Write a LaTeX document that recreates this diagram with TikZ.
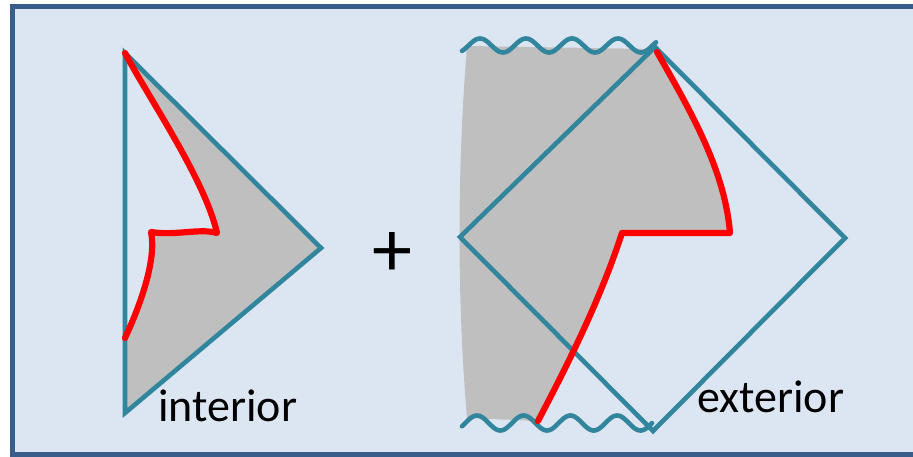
\documentclass[tikz,border=0pt]{standalone}
\usepackage{fontspec}
\setmainfont{Carlito}
\definecolor{bgfill}{HTML}{DCE6F2}
\definecolor{frame}{HTML}{385D8A}
\definecolor{teal}{HTML}{31859C}
\definecolor{shade}{HTML}{BFBFBF}
\definecolor{redline}{HTML}{FF0000}
\begin{document}
\begin{tikzpicture}[x=1pt,y=-1pt,
  edge/.style={draw=teal,line width=4.6pt,line join=miter},
  wave/.style={draw=teal,line width=4.6pt,line cap=round},
  surface/.style={draw=redline,line width=6.2pt,line cap=round,line join=round},
  region/.style={fill=shade,draw=none},
  label/.style={font=\fontsize{46}{46}\selectfont,text=black,inner sep=0pt,anchor=base west}]
\useasboundingbox (0,0) rectangle (913,457);
\clip (0,0) rectangle (913,457);
\fill[white] (0,0) rectangle (913,457);
\draw[fill=bgfill,draw=frame,line width=5pt] (12,7) rectangle (940,454);
% ---------- interior ----------
\coordinate (it) at (125,53);
\coordinate (ir) at (321,248);
\coordinate (ib) at (125,413);
\coordinate (ik) at (217,233);
\coordinate (ic) at (151,232);
\coordinate (ie) at (125,338);
\path[region] (it) -- (ir) -- (ib) -- (ie)
  .. controls (145,295) and (156,255) .. (ic)
  .. controls (175,236) and (200,228) .. (ik)
  .. controls (205,180) and (150,100) .. (it) -- cycle;
\draw[edge] (it) -- (ir) -- (ib) -- cycle;
\draw[surface] (it) .. controls (150,100) and (205,180) .. (ik)
  .. controls (200,228) and (175,236) .. (ic)
  .. controls (156,255) and (145,295) .. (ie);
\node[label] (intlabel) at (158,421) {interior};
% ---------- plus ----------
\node[font=\fontsize{80}{80}\selectfont,inner sep=0pt] (plus) at (392,255) {+};
% ---------- exterior ----------
\coordinate (dl) at (460,237);
\coordinate (dt) at (655,47);
\coordinate (dr) at (845,238);
\coordinate (db) at (653,431);
\coordinate (rt) at (657,52);
\coordinate (rk) at (730,233);
\coordinate (rc) at (622,233);
\coordinate (rb) at (538,421);
\path[region] (467,46) -- (655,49) -- (rt)
  .. controls (690,110) and (725,170) .. (rk) -- (rc)
  .. controls (600,300) and (570,360) .. (rb) -- (467,418)
  .. controls (457,300) and (457,170) .. (467,46) -- cycle;
\draw[edge] (dl) -- (dt) -- (dr) -- (db) -- cycle;
\draw[wave] plot[domain=462:656,samples=120,smooth] (\x,{45.5-7*cos((\x-480)*7.826)});
\draw[wave] plot[domain=462:652,samples=120,smooth] (\x,{423-7.5*cos((\x-477)*7.709)});
\draw[surface] (rt) .. controls (690,110) and (725,170) .. (rk) -- (rc)
  .. controls (600,300) and (570,360) .. (rb);
\node[label] (extlabel) at (697,412) {exterior};
\end{tikzpicture}
\end{document}
